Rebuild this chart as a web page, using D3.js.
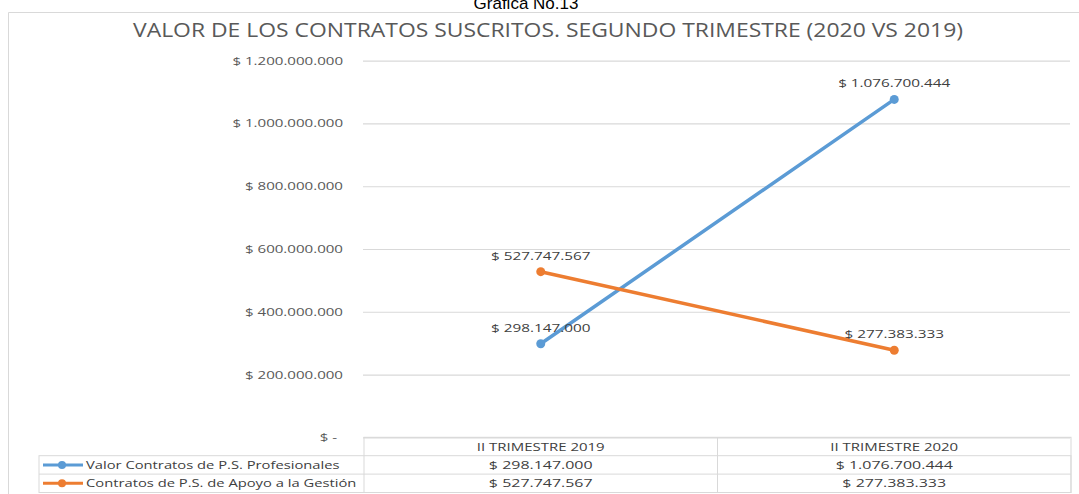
<!DOCTYPE html>
<html><head><meta charset="utf-8">
<script src="https://cdn.jsdelivr.net/npm/d3@7"></script>
<style>
html,body{margin:0;padding:0;background:#fff;}
svg{display:block;font-family:"Open Sans",sans-serif;}
</style></head>
<body>
<svg id="c" width="1079" height="494"></svg>
<script>
const categories = ["II TRIMESTRE 2019", "II TRIMESTRE 2020"];
const seriesNames = ["Valor Contratos de P.S. Profesionales", "Contratos de P.S. de Apoyo a la Gestión"];
const profesionales = [298147000, 1076700444];
const apoyo = [527747567, 277383333];
const yTicks = [0, 200000000, 400000000, 600000000, 800000000, 1000000000, 1200000000];
const colors = ["#5B9BD5", "#ED7D31"];
const series = [profesionales, apoyo];

const svg = d3.select("#c");
const W = 1079, H = 494;
const plot = {left: 364, right: 1071, top: 60.7, bottom: 437.3};

const fmt = v => v === 0 ? "$ -" : "$ " + d3.format(",")(v).replace(/,/g, ".");

const x = d3.scaleBand().domain(categories).range([plot.left, plot.right]);
const y = d3.scaleLinear().domain([0, 1200000000]).range([plot.bottom, plot.top]);

function stretch(sel, f) {
  sel.each(function() {
    const w = this.getComputedTextLength();
    d3.select(this).attr("textLength", w * f).attr("lengthAdjust", "spacingAndGlyphs");
  });
}

// Outer caption
svg.append("text").attr("x", 526).attr("y", 9).attr("text-anchor", "middle")
  .style("font-family", "Liberation Sans, Arial, sans-serif").style("font-size", "17px").attr("fill", "#000")
  .text("Grafica No.13");

// Chart frame
svg.append("path").attr("d", `M8.5,${H+2}V12.5H${W+2}`).attr("fill", "none").attr("stroke", "#d9d9d9").attr("stroke-width", 1);

// Title
svg.append("text").attr("x", 548).attr("y", 37).attr("text-anchor", "middle")
  .style("font-size", "20px").attr("fill", "#595959")
  .attr("textLength", 830).attr("lengthAdjust", "spacingAndGlyphs")
  .text("VALOR DE LOS CONTRATOS SUSCRITOS. SEGUNDO TRIMESTRE (2020 VS 2019)");

// Y axis gridlines & labels
const yAxis = d3.axisLeft(y).tickValues(yTicks).tickSize(-(plot.right - plot.left)).tickPadding(20).tickFormat(fmt);
const gy = svg.append("g").attr("transform", `translate(${plot.left - 1},0)`).call(yAxis);
gy.select(".domain").remove();
gy.selectAll(".tick line").attr("stroke", "#d9d9d9").attr("stroke-width", 1.2);
gy.selectAll(".tick text").attr("fill", "#595959").style("font-size", "11px").style("font-family", "Open Sans, sans-serif")
  .attr("dx", d => d === 0 ? -6 : 0);
stretch(gy.selectAll(".tick text"), 1.37);

// Lines & markers
const line = d3.line().x((d, i) => x(categories[i]) + x.bandwidth() / 2).y(d => y(d));
series.forEach((s, k) => {
  svg.append("path").datum(s).attr("d", line).attr("fill", "none")
    .attr("stroke", colors[k]).attr("stroke-width", 3.5).attr("stroke-linecap", "round");
});
series.forEach((s, k) => {
  svg.selectAll(null).data(s).enter().append("circle")
    .attr("cx", (d, i) => x(categories[i]) + x.bandwidth() / 2).attr("cy", d => y(d)).attr("r", 4.5)
    .attr("fill", colors[k]);
});
series.forEach((s, k) => {
  const t = svg.selectAll(null).data(s).enter().append("text")
    .attr("x", (d, i) => x(categories[i]) + x.bandwidth() / 2).attr("y", d => y(d) - 12)
    .attr("text-anchor", "middle").style("font-size", "11px").attr("fill", "#404040")
    .text(d => fmt(d));
  stretch(t, 1.39);
});

// Data table
const rowTop = plot.bottom, rowH = 18.4;
const legendLeft = 39;
const tb = svg.append("g");
const bc = "#d9d9d9";
// header row
tb.append("rect").attr("x", plot.left).attr("y", rowTop).attr("width", plot.right - plot.left).attr("height", rowH * 3)
  .attr("fill", "none").attr("stroke", bc);
tb.append("rect").attr("x", legendLeft).attr("y", rowTop + rowH).attr("width", plot.right - legendLeft).attr("height", rowH * 2)
  .attr("fill", "none").attr("stroke", bc);
tb.append("line").attr("x1", legendLeft).attr("x2", plot.right).attr("y1", rowTop + rowH * 2).attr("y2", rowTop + rowH * 2).attr("stroke", bc);
tb.append("line").attr("x1", x(categories[1])).attr("x2", x(categories[1])).attr("y1", rowTop).attr("y2", rowTop + rowH * 3).attr("stroke", bc);

const hdr = tb.selectAll(null).data(categories).enter().append("text")
  .attr("x", d => x(d) + x.bandwidth() / 2).attr("y", rowTop + rowH / 2 + 4)
  .attr("text-anchor", "middle").style("font-size", "11px").attr("fill", "#404040").text(d => d);
stretch(hdr, 1.36);

series.forEach((s, k) => {
  const cy = rowTop + rowH * (k + 1) + rowH / 2;
  tb.append("line").attr("x1", legendLeft + 4).attr("x2", legendLeft + 44).attr("y1", cy).attr("y2", cy)
    .attr("stroke", colors[k]).attr("stroke-width", 3);
  tb.append("circle").attr("cx", legendLeft + 23).attr("cy", cy).attr("r", 4).attr("fill", colors[k]);
  const lt = tb.append("text").attr("x", legendLeft + 47).attr("y", cy + 4).style("font-size", "11px").attr("fill", "#404040").text(seriesNames[k]);
  stretch(lt, 1.34);
  const vt = tb.selectAll(null).data(s).enter().append("text")
    .attr("x", (d, i) => x(categories[i]) + x.bandwidth() / 2).attr("y", cy + 4)
    .attr("text-anchor", "middle").style("font-size", "11px").attr("fill", "#404040").text(d => fmt(d));
  stretch(vt, 1.45);
});
</script>
</body></html>
